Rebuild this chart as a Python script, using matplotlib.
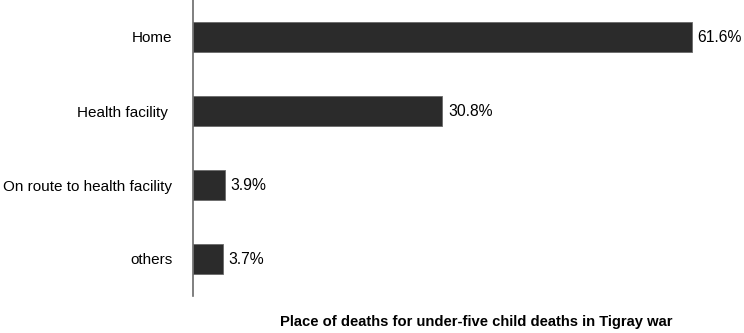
import matplotlib
matplotlib.use('Agg')
import matplotlib.pyplot as plt

# place of death data
places = ['Home', 'Health facility ', 'On route to health facility', 'others']
percent = [61.6, 30.8, 3.9, 3.7]
labels = ['61.6%', '30.8%', '3.9%', '3.7%']

plt.rcParams['font.family'] = ['Liberation Sans', 'DejaVu Sans']

fig = plt.figure(figsize=(7.44, 3.33), dpi=100)
ax = fig.add_axes([193 / 744, 37 / 333, 551 / 744, 296 / 333])

ax.barh(places, percent, height=0.41, color='#2b2b2b', edgecolor='#6a6a6a', linewidth=0.6)
for i, v in enumerate(percent):
    ax.text(v + 0.7, i, labels[i], va='center', ha='left', fontsize=11.3, color='black')

ax.set_xlim(0, 551 / 8.1)
ax.set_ylim(3.5, -0.5)
ax.set_xticks([])
ax.tick_params(axis='y', length=0, pad=15, labelsize=11)
for s in ['top', 'right', 'bottom']:
    ax.spines[s].set_visible(False)
ax.spines['left'].set_color('#6a6a6a')
ax.spines['left'].set_linewidth(1.2)

fig.text(476 / 744, 1 - 322 / 333, 'Place of deaths for under-five child deaths in Tigray war',
         ha='center', va='center', fontsize=10.6, fontweight='bold')

fig.savefig('out.png', dpi=100)
